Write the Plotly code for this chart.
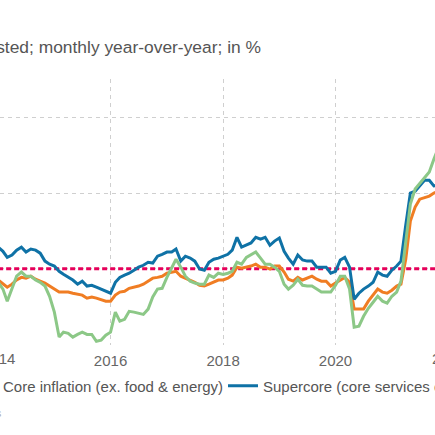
import pandas as pd
import plotly.graph_objects as go

# ---------------- data ----------------
months = pd.date_range("2014-01-01", periods=95, freq="MS")

headline = [1.64, 1.46, 1.14, 1.46, 1.80, 1.91, 1.80, 1.80, 1.70, 1.64, 1.54, 1.27,
            0.85, 0.19, 0.32, 0.29, 0.19, 0.26, 0.32, 0.26, 0.26, 0.08, 0.11, 0.24,
            0.32, 0.85, 0.61, 0.66, 0.87, 0.85, 0.82, 0.79, 0.93, 1.25, 1.46, 1.48,
            1.77, 2.04, 2.25, 2.04, 1.80, 1.67, 1.62, 1.59, 1.59, 1.83, 1.77, 1.88,
            1.85, 1.88, 1.93, 2.17, 2.12, 2.30, 2.38, 2.44, 2.28, 2.12, 2.12, 2.04,
            1.93, 1.59, 1.46, 1.56, 1.72, 1.56, 1.54, 1.54, 1.46, 1.38, 1.38, 1.38,
            1.56, 1.80, 1.80, 1.46, 0.45, 0.48, 0.74, 0.95, 1.11, 1.27, 1.14, 1.09,
            1.27, 1.38, 1.67, 2.78, 3.71, 4.11, 4.26, 4.42, 4.56, 4.90, 5.22]

core = [1.70, 1.59, 1.51, 1.59, 1.70, 1.77, 1.75, 1.80, 1.72, 1.67, 1.62, 1.54,
        1.46, 1.38, 1.38, 1.38, 1.35, 1.32, 1.30, 1.22, 1.25, 1.22, 1.17, 1.14,
        1.14, 1.30, 1.38, 1.40, 1.48, 1.51, 1.54, 1.59, 1.67, 1.75, 1.77, 1.80,
        1.88, 1.91, 1.93, 1.80, 1.75, 1.70, 1.64, 1.56, 1.54, 1.59, 1.64, 1.70,
        1.70, 1.75, 1.83, 2.04, 2.01, 2.04, 2.07, 2.12, 2.04, 2.04, 1.99, 2.07,
        2.07, 1.91, 1.72, 1.67, 1.77, 1.70, 1.75, 1.80, 1.72, 1.67, 1.67, 1.54,
        1.62, 1.70, 1.77, 1.64, 0.93, 0.93, 0.93, 1.14, 1.32, 1.46, 1.38, 1.35,
        1.43, 1.54, 1.59, 2.25, 3.26, 3.63, 3.84, 3.89, 3.92, 4.00, 4.05]

supercore = [2.57, 2.46, 2.30, 2.36, 2.49, 2.57, 2.44, 2.52, 2.49, 2.41, 2.20, 2.12,
             2.07, 1.93, 1.85, 1.77, 1.70, 1.59, 1.67, 1.54, 1.56, 1.51, 1.46, 1.40,
             1.35, 1.64, 1.77, 1.83, 1.88, 1.96, 2.04, 2.09, 2.17, 2.15, 2.33, 2.38,
             2.44, 2.44, 2.52, 2.20, 2.33, 2.28, 2.20, 1.99, 1.96, 2.17, 2.25, 2.28,
             2.33, 2.38, 2.49, 2.83, 2.57, 2.62, 2.68, 2.83, 2.78, 2.83, 2.62, 2.73,
             2.81, 2.46, 2.28, 2.12, 2.36, 2.23, 2.20, 2.20, 2.04, 2.04, 2.04, 1.88,
             1.93, 2.23, 2.30, 2.04, 1.19, 1.35, 1.46, 1.54, 1.64, 1.91, 1.83, 1.80,
             1.96, 2.07, 2.20, 3.15, 4.00, 4.05, 4.19, 4.34, 4.34, 4.19, 4.21]

target = 2.0
series_names = ["Headline inflation",
                "Core inflation (ex. food & energy)",
                "Supercore (core services ex. housing)"]
x_range = ["2014-01-13", "2021-10-08"]
y_range = [-0.02, 7.02]
edge_tick_years = ["2014", "2022"]

subtitle = "Seasonally adjusted; monthly year-over-year; in %"
source_note = "Sources: BEA; own calculations"

# ---------------- style ----------------
FONT = "Liberation Sans, Arial, sans-serif"
C_GREEN = "#8cc887"
C_ORANGE = "#f07d23"
C_BLUE = "#0f72a6"
C_RED = "#e6005a"
GRID = "#cfcfcf"
W, H = 435, 435
M_T, M_B = 79, 90

fig = go.Figure()
fig.add_trace(go.Scatter(x=[months[0], months[-1]], y=[target, target], mode="lines",
                         name="2% target", showlegend=False, hoverinfo="skip",
                         line=dict(color=C_RED, width=3, dash="5px,3px")))
fig.add_trace(go.Scatter(x=months, y=core, mode="lines", name=series_names[1],
                         line=dict(color=C_ORANGE, width=3), legend="legend2"))
fig.add_trace(go.Scatter(x=months, y=supercore, mode="lines", name=series_names[2],
                         line=dict(color=C_BLUE, width=3), legend="legend3"))
fig.add_trace(go.Scatter(x=months, y=headline, mode="lines", name=series_names[0],
                         line=dict(color=C_GREEN, width=3), legend="legend"))

# partial tick labels at the cropped edges, positioned through the axis range
r0, r1 = pd.Timestamp(x_range[0]), pd.Timestamp(x_range[1])
for yr in edge_tick_years:
    frac = (pd.Timestamp(yr + "-01-01") - r0) / (r1 - r0)
    fig.add_annotation(text=yr, xref="paper", x=frac, xanchor="center",
                       yref="paper", y=0, yanchor="middle", yshift=-13.5,
                       showarrow=False, font=dict(family=FONT, size=15, color="#666666"))

fig.add_annotation(text=source_note, xref="paper", x=4 / W, xanchor="right",
                   yref="paper", y=-(413 - (H - M_B)) / (H - M_T - M_B), yanchor="middle",
                   showarrow=False, font=dict(family=FONT, size=11, color="#aaaaaa"))

leg_common = dict(orientation="h", yanchor="middle", xanchor="left",
                  y=-(386 - (H - M_B)) / (H - M_T - M_B),
                  font=dict(family=FONT, size=15, color="#555555"),
                  bgcolor="rgba(0,0,0,0)")

fig.update_layout(
    width=W, height=H,
    margin=dict(l=0, r=0, t=M_T, b=M_B, autoexpand=False),
    paper_bgcolor="white", plot_bgcolor="white",
    font=dict(family=FONT, color="#555555"),
    title=dict(text=subtitle, x=261 / W, xanchor="right", xref="container",
               y=1 - 47 / H, yanchor="middle", yref="container",
               font=dict(family=FONT, size=17.4, color="#555555")),
    xaxis=dict(type="date", range=x_range, dtick="M24", tick0="2014-01-01",
               tickformat="%Y", showgrid=True, gridcolor=GRID, griddash="4px,4px",
               gridwidth=1, zeroline=False, showline=False, ticks="",
               ticklabelstandoff=5,
               tickfont=dict(family=FONT, size=15, color="#666666")),
    yaxis=dict(range=y_range, dtick=2, tick0=0, showgrid=True, gridcolor=GRID,
               griddash="4px,4px", gridwidth=1, zeroline=False, showline=False,
               showticklabels=False, ticks=""),
    legend=dict(x=-0.9, **leg_common),
    legend2=dict(x=(3 - 40) / W, **leg_common),
    legend3=dict(x=(263 - 40) / W, **leg_common),
    showlegend=True,
)

fig.write_html("out.html",
               config={"displayModeBar": False},
               post_script="document.body.style.margin='0';document.body.style.overflow='hidden';")
